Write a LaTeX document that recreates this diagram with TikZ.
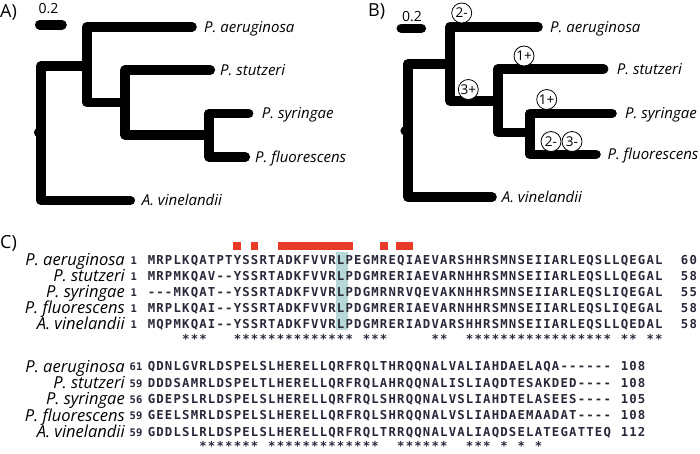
\documentclass[tikz,border=0pt]{standalone}
\usepackage{fontspec}
\setmainfont{Open Sans}
\newfontfamily\monof{DejaVu Sans Mono}
\definecolor{hl}{RGB}{182,216,214}
\definecolor{redbar}{RGB}{232,58,40}
\definecolor{seqc}{RGB}{40,40,58}
\newlength\cw
\setlength\cw{8.6pt}
\def\sqloop#1{\ifx\relax#1\else\sqchar{#1}\expandafter\sqloop\fi}
\def\sqchar#1{\makebox[\cw][c]{\if.#1\else#1\fi}}
\newcommand\sq[1]{\sqloop#1\relax}
\tikzset{
  br/.style={line width=9.6pt, line cap=round, line join=round},
  tiplab/.style={anchor=base west, inner sep=0pt, font=\itshape\fontsize{15}{15}\selectfont},
  mk/.style={circle, draw, fill=white, line width=0.8pt, minimum size=20pt, inner sep=0pt, font=\fontsize{13.5}{13.5}\selectfont},
  nm/.style={anchor=base east, inner sep=0pt, font=\itshape\fontsize{16.5}{16.5}\selectfont},
  sqrow/.style={anchor=base west, inner sep=0pt, font=\monof\bfseries\fontsize{12.3}{12.3}\selectfont, text=seqc},
  numl/.style={anchor=base west, inner sep=0pt, font=\monof\bfseries\fontsize{10.5}{10.5}\selectfont, text=seqc},
  panel/.style={anchor=base west, inner sep=0pt, font=\fontsize{18}{18}\selectfont},
  scl/.style={anchor=base, inner sep=0pt, font=\fontsize{14}{14}\selectfont},
}
\begin{document}
\begin{tikzpicture}[x=1pt,y=-1pt]
\useasboundingbox (0,0) rectangle (700,453);
\fill[white] (0,0) rectangle (700,453);

% ---------------- Panel A ----------------
\node[panel] (labA) at (0,17.5) {A)};
\node[scl] (sA) at (48.5,13) {0.2};
\coordinate (sA1) at (39.7,24.7);
\coordinate (sA2) at (62,24.7);
\draw[br] (sA1) -- (sA2);

\coordinate (A0) at (41,132.5);
\coordinate (A1) at (86.7,65.8);
\coordinate (A2) at (125,102.3);
\coordinate (A3) at (209,135);
\coordinate (Aa) at (192,26.7);
\coordinate (As) at (210.3,70);
\coordinate (Ay) at (248.6,113.3);
\coordinate (Af) at (245.3,157);
\coordinate (Av) at (130.3,200.3);
\draw[br] (A1) -| (A0) |- (Av);
\draw[br] (Aa) -| (A1) |- (A2);
\draw[br] (As) -| (A2) |- (A3);
\draw[br] (Ay) -| (A3) |- (Af);
\fill (38.5,132.5) circle (4.6pt);

\node[tiplab] (tAa) at (204,32) {P. aeruginosa};
\node[tiplab] (tAs) at (220,75.5) {P. stutzeri};
\node[tiplab] (tAy) at (261.7,118.8) {P. syringae};
\node[tiplab] (tAf) at (255,162.5) {P. fluorescens};
\node[tiplab] (tAv) at (141.7,205.8) {A. vinelandii};

% ---------------- Panel B ----------------
\node[panel] (labB) at (368,16.5) {B)};
\node[scl] (sB) at (412,21.5) {0.2};
\coordinate (sB1) at (401.3,28.3);
\coordinate (sB2) at (421.3,28.3);
\draw[br] (sB1) -- (sB2);

\coordinate (B0) at (407.7,130.8);
\coordinate (B1) at (450,64);
\coordinate (B2) at (497.7,101);
\coordinate (B3) at (530,132.3);
\coordinate (Ba) at (538,26.7);
\coordinate (Bs) at (603.6,69);
\coordinate (By) at (612,113.3);
\coordinate (Bf) at (596,154.3);
\coordinate (Bv) at (492,197);
\draw[br] (B1) -| (B0) |- (Bv);
\draw[br] (Ba) -| (B1) |- (B2);
\draw[br] (Bs) -| (B2) |- (B3);
\draw[br] (By) -| (B3) |- (Bf);
\fill (405,130.8) circle (4.6pt);

\node[tiplab] (tBa) at (550,32) {P. aeruginosa};
\node[tiplab] (tBs) at (616.7,74.5) {P. stutzeri};
\node[tiplab] (tBy) at (625,118.8) {P. syringae};
\node[tiplab] (tBf) at (607.3,159.8) {P. fluorescens};
\node[tiplab] (tBv) at (501.7,202.5) {A. vinelandii};

\node[mk] (m1) at (461.7,13) {2-};
\node[mk] (m2) at (524,56) {1+};
\node[mk] (m3) at (468.3,89.5) {3+};
\node[mk] (m4) at (546.7,99.5) {1+};
\node[mk] (m5) at (551,141.5) {2-};
\node[mk] (m6) at (572,141.5) {3-};

% ---------------- Panel C ----------------
\node[panel] (labC) at (0,248) {C)};

\fill[hl] (336,252) rectangle (347.5,330);
\fill[redbar] (233,242.3) rectangle (241,249.5);
\fill[redbar] (250.7,242.3) rectangle (258.3,249.5);
\fill[redbar] (278,242.3) rectangle (353,249.5);
\fill[redbar] (380,242.3) rectangle (388.3,249.5);
\fill[redbar] (396,242.3) rectangle (412.7,249.5);

% block 1
\node[nm] (n11) at (125,265.8) {P. aeruginosa};
\node[nm] (n12) at (125,281.7) {P. stutzeri};
\node[nm] (n13) at (125,297.6) {P. syringae};
\node[nm] (n14) at (125,313.5) {P. fluorescens};
\node[nm] (n15) at (125,329.4) {A. vinelandii};
\node[numl] (k11) at (130.5,264.5) {1};
\node[numl] (k12) at (130.5,280.4) {1};
\node[numl] (k13) at (130.5,296.3) {1};
\node[numl] (k14) at (130.5,312.2) {1};
\node[numl] (k15) at (130.5,328.1) {1};
\node[sqrow] (q11) at (147,264.5) {\sq{MRPLKQATPTYSSRTADKFVVRLPEGMREQIAEVARSHHRSMNSEIIARLEQSLLQEGAL..60}};
\node[sqrow] (q12) at (147,280.4) {\sq{MRPMKQAV--YSSRTADKFVVRLPDGMRERIAEVARNHHRSMNSEIIARLEQSLLQEGAL..58}};
\node[sqrow] (q13) at (147,296.3) {\sq{---MKQAT--YSSRTADKFVVRLPDGMRNRVQEVAKNHHRSMNSEIIARLEQSLIQEGAL..55}};
\node[sqrow] (q14) at (147,312.2) {\sq{MRPLKQAI--YSSRTADKFVVRLPDGMRERIAEVARNHHRSMNSEIIARLEQSLIQEGAL..58}};
\node[sqrow] (q15) at (147,328.1) {\sq{MQPMKQAI--YSSRTADKFVVRLPDGMRERIADVARSHHRSMNSEIIARLEQSLLQEDAL..58}};
\node[sqrow] (c1) at (147,343.5) {\sq{....***...**************.***.....**..*****************.**.**}};

% block 2
\node[nm] (n21) at (125,372.1) {P. aeruginosa};
\node[nm] (n22) at (125,388.4) {P. stutzeri};
\node[nm] (n23) at (125,404.7) {P. syringae};
\node[nm] (n24) at (125,421) {P. fluorescens};
\node[nm] (n25) at (125,437.3) {A. vinelandii};
\node[numl] (k21) at (129.5,370.8) {61};
\node[numl] (k22) at (129.5,387.1) {59};
\node[numl] (k23) at (129.5,403.4) {56};
\node[numl] (k24) at (129.5,419.7) {59};
\node[numl] (k25) at (129.5,436) {59};
\node[sqrow] (q21) at (147,370.8) {\sq{QDNLGVRLDSPELSLHERELLQRFRQLTHRQQNALVALIAHDAELAQA------.108}};
\node[sqrow] (q22) at (147,387.1) {\sq{DDDSAMRLDSPELTLHERELLQRFRQLAHRQQNALISLIAQDTESAKDED----.108}};
\node[sqrow] (q23) at (147,403.4) {\sq{GDEPSLRLDSPELSLHERELLQRFRQLSHRQQNALVSLIAHDTELASEES----.105}};
\node[sqrow] (q24) at (147,419.7) {\sq{GEELSMRLDSPELSLHERELLQRFRQLSHRQQNALVSLIAHDAEMAADAT----.108}};
\node[sqrow] (q25) at (147,436) {\sq{GDDLSLRLDSPELSLHERELLQRFRQLTRRQQNALVALIAQDSELATEGATTEQ.112}};
\node[sqrow] (c2) at (147,450) {\sq{......*******.*************..******..***.*.*.*}};
\end{tikzpicture}
\end{document}
